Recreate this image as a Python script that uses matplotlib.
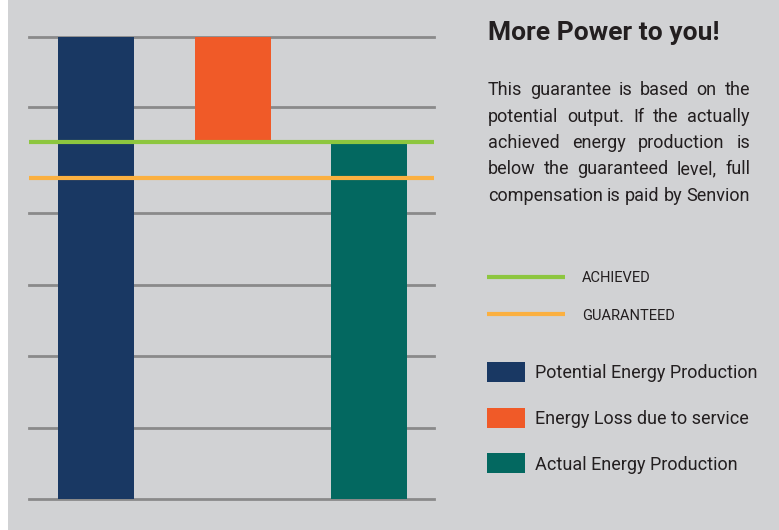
import matplotlib
matplotlib.use("Agg")
import matplotlib.pyplot as plt
from matplotlib import font_manager
from matplotlib.patches import Rectangle
from matplotlib.lines import Line2D

# === DATA ===
categories = ["Potential", "Loss", "Actual"]
bar_bottoms = [0, 77.5, 0]
bar_heights = [100, 22.5, 76.8]
bar_colors = ["#193863", "#f05a28", "#036860"]
achieved = 77.2
guaranteed = 69.5
grid_values = [0, 15.4, 31.0, 46.3, 61.9, 84.8, 100]

title = "More Power to you!"
paragraph = [
    "This guarantee is based on the",
    "potential output. If the actually",
    "achieved energy production is",
    "below the guaranteed level, full",
    "compensation is paid by Senvion",
]
line_labels = ["ACHIEVED", "GUARANTEED"]
line_colors = ["#8dc63f", "#fbb040"]
patch_labels = ["Potential Energy Production", "Energy Loss due to service",
                "Actual Energy Production"]

BG = "#d1d2d4"
TXT = "#231f20"
W, H = 779, 530


def pick_font(names):
    avail = {f.name for f in font_manager.fontManager.ttflist}
    for n in names:
        if n in avail:
            return n
    return "DejaVu Sans"


FONT = pick_font(["DejaVu Sans Condensed", "Liberation Sans Narrow", "Roboto", "DejaVu Sans"])


def fx(x):
    return x / W


def fy(y):
    return 1 - y / H


fig = plt.figure(figsize=(W / 100, H / 100), dpi=100, facecolor="white")
# gray panel (left strip stays white)
fig.patches.append(Rectangle((fx(8), 0), 1 - fx(8), 1, transform=fig.transFigure,
                             facecolor=BG, edgecolor="none", zorder=-5))

ax = fig.add_axes([fx(29), fy(499), fx(434) - fx(29), fy(37) - fy(499)])
ax.set_zorder(1)
ax.set_facecolor("none")
ax.set_xlim(-0.491, 2.476)
ax.set_ylim(0, 100)
ax.set_yticks(grid_values)
ax.grid(axis="y", color="#8a8a8a", linewidth=2, zorder=1)
for gl in ax.get_ygridlines():
    gl.set_clip_on(False)
ax.set_axisbelow(True)
ax.tick_params(left=False, bottom=False, labelleft=False, labelbottom=False)
for s in ax.spines.values():
    s.set_visible(False)

ax.bar(range(len(categories)), bar_heights, bottom=bar_bottoms, width=0.557,
       color=bar_colors, zorder=2)
ax.axhline(achieved, color=line_colors[0], linewidth=3, zorder=3)
ax.axhline(guaranteed, color=line_colors[1], linewidth=3, zorder=3)

# === TEXT PANEL ===
fig.text(fx(488), fy(40), title, fontsize=19, fontweight="bold", color=TXT,
         family=FONT, va="baseline", ha="left")

renderer = fig.canvas.get_renderer()
x0, x1 = 488, 750
for i, line in enumerate(paragraph):
    y = 95 + i * 26.5
    words = line.split()
    objs = [fig.text(0, fy(y), w, fontsize=13, color=TXT, family=FONT,
                     va="baseline", ha="left") for w in words]
    widths = [o.get_window_extent(renderer).width for o in objs]
    gap = (x1 - x0 - sum(widths)) / (len(words) - 1)
    x = x0
    for o, wd in zip(objs, widths):
        o.set_x(fx(x))
        x += wd + gap

for i, (lab, col) in enumerate(zip(line_labels, line_colors)):
    y = 277 + i * 37
    fig.lines.append(Line2D([fx(487), fx(565)], [fy(y), fy(y)], transform=fig.transFigure,
                            color=col, linewidth=3, solid_capstyle="butt"))
    fig.text(fx(582), fy(y + 5.5), lab, fontsize=10.5, color=TXT, family=FONT,
             va="baseline", ha="left")

for i, (lab, col) in enumerate(zip(patch_labels, bar_colors)):
    y = 372 + i * 45.5
    fig.patches.append(Rectangle((fx(487), fy(y + 10)), fx(38), 20 / H,
                                 transform=fig.transFigure, facecolor=col,
                                 edgecolor="none"))
    fig.text(fx(535), fy(y + 6.5), lab, fontsize=13, color=TXT, family=FONT,
             va="baseline", ha="left")

fig.savefig("out.png", dpi=100, facecolor="white")
